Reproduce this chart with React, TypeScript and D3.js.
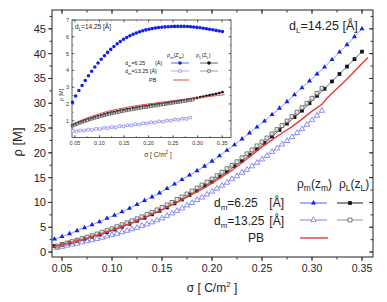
import React from "react";
import * as d3 from "d3";

// ---------- main plot data ----------
// d_m = 6.25 grid
const sigmaA = [0.0425, 0.05, 0.0575, 0.065, 0.0725, 0.08, 0.0875, 0.095, 0.1025, 0.11, 0.1175, 0.125, 0.1325, 0.14, 0.1475, 0.155, 0.1625, 0.17, 0.1775, 0.185, 0.1925, 0.2, 0.2075, 0.215, 0.2225, 0.23, 0.2375, 0.245, 0.2525, 0.26, 0.2675, 0.275, 0.2825, 0.29, 0.2975, 0.305, 0.3125, 0.32, 0.3275, 0.335, 0.3425, 0.35];
const rhoM_d625 = [2.6, 3.1, 3.7, 4.3, 4.9, 5.5, 6.1, 6.8, 7.4, 8.1, 8.8, 9.6, 10.4, 11.1, 11.9, 12.8, 13.7, 14.6, 15.5, 16.4, 17.3, 18.3, 19.4, 20.5, 21.6, 22.8, 24.0, 25.2, 26.4, 27.7, 29.0, 30.3, 31.7, 33.1, 34.5, 35.9, 37.3, 38.8, 40.3, 41.8, 43.4, 45.0];
const rhoL_d625 = [1.2, 1.55, 1.9, 2.3, 2.7, 3.1, 3.55, 4.0, 4.55, 5.1, 5.7, 6.3, 6.9, 7.6, 8.3, 9.0, 9.8, 10.6, 11.5, 12.4, 13.3, 14.2, 15.2, 16.2, 17.3, 18.4, 19.6, 20.8, 22.0, 23.3, 24.6, 25.9, 27.2, 28.5, 30.0, 31.5, 32.9, 34.4, 35.9, 37.4, 38.9, 40.4];
// d_m = 13.25 grid
const sigmaB = [0.045, 0.05, 0.055, 0.06, 0.065, 0.07, 0.075, 0.08, 0.085, 0.09, 0.095, 0.1, 0.105, 0.11, 0.115, 0.12, 0.125, 0.13, 0.135, 0.14, 0.145, 0.15, 0.155, 0.16, 0.165, 0.17, 0.175, 0.18, 0.185, 0.19, 0.195, 0.2, 0.205, 0.21, 0.215, 0.22, 0.225, 0.23, 0.235, 0.24, 0.245, 0.25, 0.255, 0.26, 0.265, 0.27, 0.275, 0.28, 0.285, 0.29, 0.295, 0.3, 0.305, 0.31];
const rhoM_d1325 = [0.85, 1.07, 1.3, 1.5, 1.7, 1.95, 2.2, 2.4, 2.65, 2.9, 3.15, 3.4, 3.7, 4.0, 4.3, 4.6, 4.9, 5.3, 5.6, 6.0, 6.4, 6.8, 7.3, 7.8, 8.3, 8.8, 9.4, 9.9, 10.5, 11.0, 11.6, 12.2, 12.8, 13.4, 14.0, 14.7, 15.3, 16.0, 16.6, 17.3, 18.0, 18.7, 19.4, 20.2, 20.9, 21.7, 22.4, 23.2, 24.0, 24.8, 25.7, 26.6, 27.5, 28.5];
const rhoL_d1325 = [1.2, 1.5, 1.8, 2.1, 2.4, 2.7, 3.0, 3.3, 3.65, 4.0, 4.35, 4.7, 5.1, 5.5, 5.9, 6.3, 6.7, 7.1, 7.6, 8.0, 8.5, 9.0, 9.5, 10.0, 10.6, 11.1, 11.7, 12.3, 12.9, 13.5, 14.1, 14.7, 15.4, 16.1, 16.8, 17.5, 18.2, 19.0, 19.8, 20.6, 21.4, 22.2, 23.0, 23.8, 24.7, 25.5, 26.4, 27.3, 28.2, 29.1, 30.0, 31.0, 32.0, 33.0];
// PB
const pbSigma = [0.041, 0.05, 0.06, 0.07, 0.08, 0.09, 0.1, 0.11, 0.12, 0.13, 0.14, 0.15, 0.16, 0.17, 0.18, 0.19, 0.2, 0.21, 0.22, 0.23, 0.24, 0.25, 0.26, 0.27, 0.28, 0.29, 0.3, 0.31, 0.315, 0.32, 0.33, 0.34, 0.35, 0.356];
const pbRho = [1.0, 1.5, 2.0, 2.5, 3.1, 3.7, 4.4, 5.1, 5.9, 6.7, 7.6, 8.5, 9.5, 10.5, 11.6, 12.7, 13.9, 15.2, 16.5, 18.0, 19.6, 21.2, 22.6, 24.0, 25.3, 26.8, 28.4, 29.8, 31.0, 32.0, 33.9, 35.9, 38.0, 39.2];

const xTicks = [0.05, 0.1, 0.15, 0.2, 0.25, 0.3, 0.35];
const xTickLabels = ["0.05", "0.10", "0.15", "0.20", "0.25", "0.30", "0.35"];
const yTicks = [0, 5, 10, 15, 20, 25, 30, 35, 40, 45];

// ---------- inset data ----------
const inSigmaA = [0.045, 0.0515, 0.058, 0.0645, 0.071, 0.0775, 0.084, 0.0905, 0.097, 0.1035, 0.11, 0.1165, 0.123, 0.1295, 0.136, 0.1425, 0.149, 0.1555, 0.162, 0.1685, 0.175, 0.1815, 0.188, 0.1945, 0.201, 0.2075, 0.214, 0.2205, 0.227, 0.2335, 0.24, 0.2465, 0.253, 0.2595, 0.266, 0.2725, 0.279, 0.2855, 0.292, 0.2985, 0.305, 0.3115, 0.318, 0.3245, 0.331, 0.3375, 0.344, 0.3505];
const inRhoM_d625 = [2.1, 2.47, 2.8, 3.1, 3.4, 3.68, 3.95, 4.2, 4.44, 4.66, 4.87, 5.07, 5.25, 5.42, 5.58, 5.72, 5.85, 5.96, 6.06, 6.15, 6.23, 6.3, 6.36, 6.41, 6.45, 6.49, 6.52, 6.55, 6.57, 6.59, 6.6, 6.61, 6.62, 6.62, 6.62, 6.62, 6.61, 6.6, 6.58, 6.56, 6.54, 6.51, 6.48, 6.45, 6.42, 6.38, 6.35, 6.31];
const inRhoL_d625 = [0.72, 0.8, 0.88, 0.95, 1.02, 1.09, 1.15, 1.21, 1.27, 1.33, 1.38, 1.43, 1.48, 1.52, 1.56, 1.6, 1.64, 1.68, 1.71, 1.75, 1.78, 1.81, 1.84, 1.87, 1.9, 1.93, 1.96, 1.99, 2.01, 2.04, 2.07, 2.1, 2.13, 2.16, 2.19, 2.22, 2.25, 2.28, 2.32, 2.36, 2.4, 2.44, 2.48, 2.52, 2.56, 2.6, 2.65, 2.7];
const inSigmaB = [0.045, 0.053, 0.061, 0.069, 0.077, 0.085, 0.093, 0.101, 0.109, 0.117, 0.125, 0.133, 0.141, 0.149, 0.157, 0.165, 0.173, 0.181, 0.189, 0.197, 0.205, 0.213, 0.221, 0.229, 0.237, 0.245, 0.253, 0.261, 0.269, 0.277, 0.285];
const inRhoM_d1325 = [0.38, 0.36, 0.42, 0.41, 0.47, 0.45, 0.52, 0.5, 0.57, 0.56, 0.62, 0.6, 0.68, 0.66, 0.73, 0.72, 0.79, 0.77, 0.85, 0.83, 0.9, 0.89, 0.96, 0.94, 1.01, 1.0, 1.07, 1.05, 1.12, 1.11, 1.19];
const inSigmaC = [0.045, 0.05, 0.055, 0.06, 0.065, 0.07, 0.075, 0.08, 0.085, 0.09, 0.095, 0.1, 0.105, 0.11, 0.115, 0.12, 0.125, 0.13, 0.135, 0.14, 0.145, 0.15, 0.155, 0.16, 0.165, 0.17, 0.175, 0.18, 0.185, 0.19, 0.195, 0.2, 0.205, 0.21, 0.215, 0.22, 0.225, 0.23, 0.235, 0.24, 0.245, 0.25, 0.255, 0.26, 0.265, 0.27, 0.275, 0.28, 0.285, 0.29];
const inRhoL_d1325 = [0.7, 0.76, 0.82, 0.87, 0.93, 0.98, 1.03, 1.08, 1.12, 1.17, 1.21, 1.25, 1.29, 1.33, 1.37, 1.4, 1.44, 1.47, 1.5, 1.53, 1.56, 1.59, 1.62, 1.65, 1.67, 1.7, 1.72, 1.75, 1.77, 1.8, 1.82, 1.84, 1.87, 1.89, 1.91, 1.94, 1.96, 1.98, 2.0, 2.02, 2.05, 2.07, 2.09, 2.11, 2.13, 2.16, 2.18, 2.2, 2.23, 2.25];
const inPbSigma = [0.045, 0.06, 0.08, 0.1, 0.12, 0.14, 0.16, 0.18, 0.2, 0.22, 0.24, 0.26, 0.28, 0.3, 0.32, 0.34, 0.355];
const inPbRho = [0.8, 1.0, 1.22, 1.42, 1.58, 1.71, 1.82, 1.92, 2.0, 2.08, 2.15, 2.22, 2.29, 2.36, 2.43, 2.5, 2.55];

const inXTicks = [0.05, 0.1, 0.15, 0.2, 0.25, 0.3, 0.35];
const inXTickLabels = ["0.05", "0.10", "0.15", "0.20", "0.25", "0.30", "0.35"];
const inYTicks = [1, 2, 3, 4, 5, 6, 7];

const FONT = "'Liberation Sans', Arial, Helvetica, sans-serif";
const BLUE = "#1020f0";
const LBLUE = "#7070f0";
const RED = "#e8393a";
const AX = "#333";

type P = [number, number];
const zip = (a: number[], b: number[]): P[] => a.map((s, i) => [s, b[i]] as P);

export default function App() {
  const x = d3.scaleLinear().domain([0.04, 0.361]).range([52, 373]);
  const y = d3.scaleLinear().domain([-1, 48.8]).range([257, 10]);
  const ix = d3.scaleLinear().domain([0.044, 0.368]).range([72, 231]);
  const iy = d3.scaleLinear().domain([0, 7]).range([137.5, 20]);

  const line = d3.line<P>().x((d) => x(d[0])).y((d) => y(d[1]));
  const iline = d3.line<P>().x((d) => ix(d[0])).y((d) => iy(d[1]));

  const tri = d3.symbol().type(d3.symbolTriangle).size(11)()!;
  const sq = d3.symbol().type(d3.symbolSquare).size(14)()!;
  const sqO = d3.symbol().type(d3.symbolSquare).size(15)()!;
  const triO = d3.symbol().type(d3.symbolTriangle).size(13)()!;
  const iCirc = d3.symbol().type(d3.symbolCircle).size(10)()!;
  const iSq = d3.symbol().type(d3.symbolSquare).size(7)()!;
  const iCircSmall = d3.symbol().type(d3.symbolCircle).size(6)()!;

  const xMinor = d3.range(0.05, 0.36, 0.025);
  const yMinor = d3.range(0, 48, 2.5);
  const inXMinor = d3.range(0.05, 0.36, 0.025);
  const inYMinor = d3.range(0.5, 7, 0.5);

  const mBlue = zip(sigmaA, rhoM_d625);
  const mBlack = zip(sigmaA, rhoL_d625);
  const mOTri = zip(sigmaB, rhoM_d1325);
  const mOSq = zip(sigmaB, rhoL_d1325);
  const mPb = zip(pbSigma, pbRho);

  const iBlue = zip(inSigmaA, inRhoM_d625);
  const iBlack = zip(inSigmaA, inRhoL_d625);
  const iOBlue = zip(inSigmaB, inRhoM_d1325);
  const iOBlack = zip(inSigmaC, inRhoL_d1325);
  const iPb = zip(inPbSigma, inPbRho);

  const [x0, x1] = [52, 373];
  const [y0, y1] = [10, 257];

  return (
    <svg width={387} height={302} style={{ position: "absolute", left: 0, top: 0, background: "#fff" }} fontFamily={FONT}>
      <rect x={0} y={0} width={387} height={302} fill="#fff" />
      {/* main frame */}
      <rect x={x0} y={y0} width={x1 - x0} height={y1 - y0} fill="none" stroke={AX} strokeWidth={1.1} />
      {xTicks.map((t) => (
        <g key={"xt" + t}>
          <line x1={x(t)} x2={x(t)} y1={y1} y2={y1 + 4} stroke={AX} />
          <line x1={x(t)} x2={x(t)} y1={y0} y2={y0 + 4} stroke={AX} />
        </g>
      ))}
      {xMinor.map((t) => (
        <g key={"xm" + t}>
          <line x1={x(t)} x2={x(t)} y1={y1} y2={y1 + 2.5} stroke={AX} />
          <line x1={x(t)} x2={x(t)} y1={y0} y2={y0 + 2.5} stroke={AX} />
        </g>
      ))}
      {xTicks.map((t, i) => (
        <text key={"xl" + t} x={x(t)} y={y1 + 15} fontSize={10.5} textAnchor="middle" fill="#222">
          {xTickLabels[i]}
        </text>
      ))}
      {yTicks.map((t) => (
        <g key={"yt" + t}>
          <line x1={x0 - 4} x2={x0} y1={y(t)} y2={y(t)} stroke={AX} />
          <line x1={x1 - 4} x2={x1} y1={y(t)} y2={y(t)} stroke={AX} />
          <text x={x0 - 6} y={y(t) + 4} fontSize={11} textAnchor="end" fill="#222">
            {t}
          </text>
        </g>
      ))}
      {yMinor.map((t) => (
        <g key={"ym" + t}>
          <line x1={x0 - 2.5} x2={x0} y1={y(t)} y2={y(t)} stroke={AX} />
          <line x1={x1 - 2.5} x2={x1} y1={y(t)} y2={y(t)} stroke={AX} />
        </g>
      ))}
      {/* axis titles */}
      <text transform="translate(22,142) rotate(-90)" fontSize={13} textAnchor="middle" fill="#222">
        ρ [M]
      </text>
      <text x={212} y={292} fontSize={12} textAnchor="middle" fill="#222">
        σ [ C/m<tspan fontSize={8} dy={-5}>2</tspan>
        <tspan dy={5}> ]</tspan>
      </text>
      <text x={289} y={30} fontSize={12.5} fill="#222">
        d<tspan fontSize={8} dy={3}>L</tspan>
        <tspan dy={-3}>=14.25 [Å]</tspan>
      </text>

      {/* main series */}
      <path d={line(mOTri)!} fill="none" stroke={LBLUE} strokeWidth={0.8} />
      {mOTri.map((d, i) => (
        <path key={"ot" + i} d={triO} transform={`translate(${x(d[0])},${y(d[1])})`} fill="#fff" stroke={LBLUE} strokeWidth={0.8} />
      ))}
      <path d={line(mBlack)!} fill="none" stroke="#444" strokeWidth={0.8} />
      {mBlack.map((d, i) => (
        <path key={"bs" + i} d={sq} transform={`translate(${x(d[0])},${y(d[1])})`} fill="#111" />
      ))}
      <path d={line(mOSq)!} fill="none" stroke="#888" strokeWidth={0.8} />
      {mOSq.map((d, i) => (
        <path key={"os" + i} d={sqO} transform={`translate(${x(d[0])},${y(d[1])})`} fill="#fff" fillOpacity={0.5} stroke="#555" strokeWidth={0.8} />
      ))}
      <path d={line(mPb)!} fill="none" stroke={RED} strokeWidth={1.4} />
      <path d={line(mBlue)!} fill="none" stroke="#6f7cf5" strokeWidth={0.8} />
      {mBlue.map((d, i) => (
        <path key={"bt" + i} d={tri} transform={`translate(${x(d[0])},${y(d[1])})`} fill={BLUE} />
      ))}

      {/* main legend */}
      <g fill="#222" fontSize={12}>
        <text x={297} y={188}>
          ρ<tspan fontSize={8.5} dy={3}>m</tspan>
          <tspan dy={-3}>(z</tspan>
          <tspan fontSize={8.5} dy={3}>m</tspan>
          <tspan dy={-3}>)</tspan>
        </text>
        <text x={339} y={188}>
          ρ<tspan fontSize={8.5} dy={3}>L</tspan>
          <tspan dy={-3}>(z</tspan>
          <tspan fontSize={8.5} dy={3}>L</tspan>
          <tspan dy={-3}>)</tspan>
        </text>
        <text x={214} y={207}>
          d<tspan fontSize={8} dy={3}>m</tspan>
          <tspan dy={-3}>=6.25</tspan>
        </text>
        <text x={284} y={207} textAnchor="end">[Å]</text>
        <text x={214} y={225}>
          d<tspan fontSize={8} dy={3}>m</tspan>
          <tspan dy={-3}>=13.25</tspan>
        </text>
        <text x={284} y={225} textAnchor="end">[Å]</text>
        <text x={248} y={242}>PB</text>
      </g>
      <line x1={300} x2={327} y1={203} y2={203} stroke="#6f7cf5" strokeWidth={1.2} />
      <path d={tri} transform="translate(313.5,203)" fill={BLUE} />
      <line x1={337} x2={363} y1={203} y2={203} stroke="#444" strokeWidth={1.2} />
      <path d={sq} transform="translate(350,203)" fill="#111" />
      <line x1={300} x2={327} y1={220} y2={220} stroke={LBLUE} strokeWidth={0.9} />
      <path d={triO} transform="translate(313.5,220)" fill="#fff" stroke={LBLUE} strokeWidth={0.8} />
      <line x1={337} x2={363} y1={220} y2={220} stroke="#888" strokeWidth={0.9} />
      <path d={sqO} transform="translate(350,220)" fill="#fff" stroke="#555" strokeWidth={0.8} />
      <line x1={300} x2={328} y1={238} y2={238} stroke={RED} strokeWidth={1.4} />

      {/* ---------- inset ---------- */}
      <rect x={72} y={20} width={159} height={117.5} fill="#fff" stroke={AX} strokeWidth={0.8} />
      {inXTicks.map((t, i) => (
        <g key={"ixt" + t}>
          <line x1={ix(t)} x2={ix(t)} y1={137.5} y2={135} stroke={AX} strokeWidth={0.6} />
          <line x1={ix(t)} x2={ix(t)} y1={20} y2={22.5} stroke={AX} strokeWidth={0.6} />
          <text x={ix(t)} y={145} fontSize={5.5} textAnchor="middle" fill="#333">
            {inXTickLabels[i]}
          </text>
        </g>
      ))}
      {inXMinor.map((t) => (
        <g key={"ixm" + t}>
          <line x1={ix(t)} x2={ix(t)} y1={137.5} y2={136} stroke={AX} strokeWidth={0.5} />
          <line x1={ix(t)} x2={ix(t)} y1={20} y2={21.5} stroke={AX} strokeWidth={0.5} />
        </g>
      ))}
      {inYTicks.map((t) => (
        <g key={"iyt" + t}>
          <line x1={72} x2={74.5} y1={iy(t)} y2={iy(t)} stroke={AX} strokeWidth={0.6} />
          <line x1={231} x2={228.5} y1={iy(t)} y2={iy(t)} stroke={AX} strokeWidth={0.6} />
          <text x={69} y={iy(t) + 2} fontSize={5.5} textAnchor="end" fill="#333">
            {t}
          </text>
        </g>
      ))}
      {inYMinor.map((t) => (
        <g key={"iym" + t}>
          <line x1={72} x2={73.5} y1={iy(t)} y2={iy(t)} stroke={AX} strokeWidth={0.5} />
          <line x1={231} x2={229.5} y1={iy(t)} y2={iy(t)} stroke={AX} strokeWidth={0.5} />
        </g>
      ))}
      <text transform="translate(63,95) rotate(-90)" fontSize={5.5} textAnchor="middle" fill="#333">
        ρ [M]
      </text>
      <text x={158} y={157} fontSize={6.5} textAnchor="middle" fill="#333">
        σ [ C/m<tspan fontSize={4.5} dy={-3}>2</tspan>
        <tspan dy={3}> ]</tspan>
      </text>
      <text x={75} y={29} fontSize={6.5} fill="#222">
        d<tspan fontSize={4.5} dy={1.5}>L</tspan>
        <tspan dy={-1.5}>=14.25 [Å]</tspan>
      </text>

      <path d={iline(iOBlue)!} fill="none" stroke={LBLUE} strokeWidth={0.5} />
      {iOBlue.map((d, i) => (
        <path key={"iob" + i} d={iSq} transform={`translate(${ix(d[0])},${iy(d[1])})`} fill="#fff" stroke={LBLUE} strokeWidth={0.6} />
      ))}
      <path d={iline(iBlack)!} fill="none" stroke="#222" strokeWidth={0.8} />
      {iBlack.map((d, i) => (
        <path key={"ibk" + i} d={iCircSmall} transform={`translate(${ix(d[0])},${iy(d[1])})`} fill="#111" />
      ))}
      <path d={iline(iPb)!} fill="none" stroke={RED} strokeWidth={0.9} />
      {iOBlack.map((d, i) => (
        <path key={"iok" + i} d={iSq} transform={`translate(${ix(d[0])},${iy(d[1])})`} fill="#fff" fillOpacity={0.5} stroke="#333" strokeWidth={0.6} />
      ))}
      {iBlue.map((d, i) => (
        <path key={"ibl" + i} d={iCirc} transform={`translate(${ix(d[0])},${iy(d[1])})`} fill={BLUE} />
      ))}

      {/* inset legend */}
      <g fill="#222" fontSize={5.5}>
        <text x={167} y={57}>
          ρ<tspan fontSize={4} dy={1.5}>m</tspan>
          <tspan dy={-1.5}>(Z</tspan>
          <tspan fontSize={4} dy={1.5}>m</tspan>
          <tspan dy={-1.5}>)</tspan>
        </text>
        <text x={196} y={57}>
          ρ<tspan fontSize={4} dy={1.5}>L</tspan>
          <tspan dy={-1.5}>(Z</tspan>
          <tspan fontSize={4} dy={1.5}>L</tspan>
          <tspan dy={-1.5}>)</tspan>
        </text>
        <text x={125} y={65}>
          d<tspan fontSize={4} dy={1.5}>m</tspan>
          <tspan dy={-1.5}>=6.25</tspan>
        </text>
        <text x={162} y={65} textAnchor="end">[Å]</text>
        <text x={125} y={73}>
          d<tspan fontSize={4} dy={1.5}>m</tspan>
          <tspan dy={-1.5}>=13.25 [Å]</tspan>
        </text>
        <text x={149} y={82}>PB</text>
      </g>
      <line x1={171} x2={189} y1={63} y2={63} stroke={BLUE} strokeWidth={0.7} />
      <path d={iCirc} transform="translate(180,63)" fill={BLUE} />
      <line x1={200} x2={218} y1={63} y2={63} stroke="#222" strokeWidth={0.7} />
      <path d={iCirc} transform="translate(209,63)" fill="#111" />
      <line x1={171} x2={189} y1={71} y2={71} stroke={LBLUE} strokeWidth={0.6} />
      <path d={iSq} transform="translate(180,71)" fill="#fff" stroke={LBLUE} strokeWidth={0.6} />
      <line x1={200} x2={218} y1={71} y2={71} stroke="#555" strokeWidth={0.6} />
      <path d={iSq} transform="translate(209,71)" fill="#fff" stroke="#333" strokeWidth={0.6} />
      <line x1={173} x2={189} y1={80} y2={80} stroke={RED} strokeWidth={0.9} />
    </svg>
  );
}
